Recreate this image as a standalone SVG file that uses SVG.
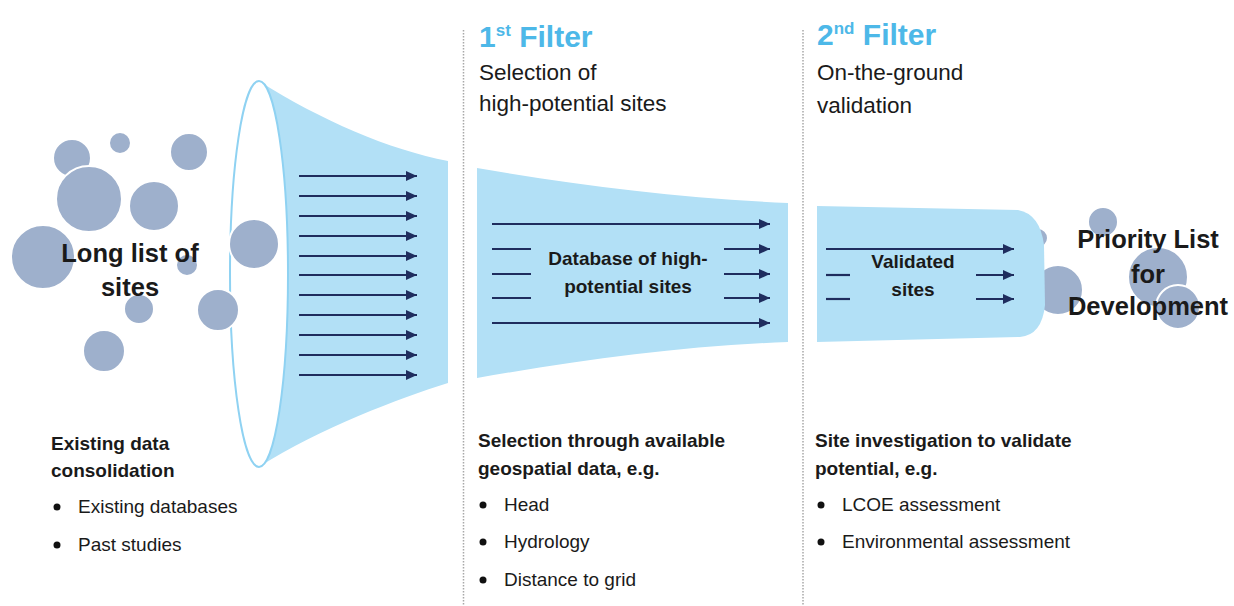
<svg xmlns="http://www.w3.org/2000/svg" width="1234" height="606" viewBox="0 0 1234 606">
<style>
text{font-family:"Liberation Sans",Arial,sans-serif;fill:#1a1a1a}
.title{font-size:30px;font-weight:bold;fill:#4db8e8}
.sub{font-size:22.5px}
.big{font-size:25.5px;font-weight:bold;text-anchor:middle}
.mid{font-size:19px;font-weight:bold;text-anchor:middle}
.head{font-size:19px;font-weight:bold}
.item{font-size:19px}
.site{fill:#9eb0cc;stroke:#fff;stroke-width:2}
.funnel{fill:#b2e0f6}
.arr{stroke:#1f2d5e;stroke-width:2.2;fill:none}
.arrn{stroke:#1f2d5e;stroke-width:2.2;fill:none;marker-end:url(#ah)}
.div{stroke:#a8a8a8;stroke-width:1.5;stroke-dasharray:1.5 1.5}
.dot{fill:#111}
</style>
<defs>
<marker id="ah" markerWidth="12" markerHeight="10" refX="11" refY="5" orient="auto" markerUnits="userSpaceOnUse"><path d="M0,0 L11,5 L0,10 z" fill="#1f2d5e"/></marker>
</defs>
<rect width="1234" height="606" fill="#fff"/>

<g id="dividers">
<line class="div" x1="463.5" y1="30" x2="463.5" y2="606"/>
<line class="div" x1="803" y1="30" x2="803" y2="606"/>
</g>

<g id="funnel1">
<path class="funnel" d="M259 81 C320 120 390 150 448 161 L448 383 C400 398 320 428 259 467 A29 193 0 0 0 259 81 Z"/>
<ellipse cx="259" cy="274" rx="29" ry="193" fill="none" stroke="#8fd2f2" stroke-width="2"/>
</g>

<g id="long-list">
<circle class="site" cx="72" cy="158" r="19"/>
<circle class="site" cx="120" cy="143" r="11"/>
<circle class="site" cx="189" cy="152" r="19"/>
<circle class="site" cx="89" cy="199" r="33"/>
<circle class="site" cx="154" cy="206" r="25"/>
<circle class="site" cx="43" cy="257" r="32"/>
<circle class="site" cx="254" cy="244" r="25"/>
<circle class="site" cx="187" cy="265" r="11"/>
<circle class="site" cx="139" cy="309" r="15"/>
<circle class="site" cx="218" cy="310" r="21"/>
<circle class="site" cx="104" cy="351" r="21"/>
<text class="big" x="130" y="262">Long list of</text>
<text class="big" x="130" y="296">sites</text>
</g>

<g id="funnel2">
<path class="funnel" d="M477 168 C580 186 680 198 788 203 L788 342 C680 346 580 360 477 378 Z"/>
<text class="mid" x="628" y="265">Database of high-</text>
<text class="mid" x="628" y="293">potential sites</text>
</g>

<g id="priority-circles">
<circle class="site" cx="1103" cy="222" r="15"/>
<circle class="site" cx="1038" cy="238" r="10"/>
<circle class="site" cx="1058" cy="290" r="25"/>
<circle class="site" cx="1158" cy="277" r="30"/>
<circle class="site" cx="1178" cy="307" r="22"/>
</g>

<g id="funnel3">
<path class="funnel" d="M817 206 L1018 210 Q1040 214 1044 245 L1045 305 Q1042 335 1020 337 L817 342 Z"/>
<text class="mid" x="913" y="268">Validated</text>
<text class="mid" x="913" y="296">sites</text>
</g>

<g id="priority">
<text class="big" x="1148" y="248">Priority List</text>
<text class="big" x="1148" y="283">for</text>
<text class="big" x="1148" y="315">Development</text>
</g>

<g id="connectors">
<line class="arrn" x1="299" y1="176" x2="417" y2="176"/>
<line class="arrn" x1="299" y1="196" x2="417" y2="196"/>
<line class="arrn" x1="299" y1="216" x2="417" y2="216"/>
<line class="arrn" x1="299" y1="236" x2="417" y2="236"/>
<line class="arrn" x1="299" y1="256" x2="417" y2="256"/>
<line class="arrn" x1="299" y1="275" x2="417" y2="275"/>
<line class="arrn" x1="299" y1="295" x2="417" y2="295"/>
<line class="arrn" x1="299" y1="315" x2="417" y2="315"/>
<line class="arrn" x1="299" y1="335" x2="417" y2="335"/>
<line class="arrn" x1="299" y1="355" x2="417" y2="355"/>
<line class="arrn" x1="299" y1="375" x2="417" y2="375"/>

<line class="arrn" x1="492" y1="224" x2="770" y2="224"/>
<line class="arr" x1="492" y1="249" x2="531" y2="249"/>
<line class="arr" x1="492" y1="274" x2="531" y2="274"/>
<line class="arr" x1="492" y1="298" x2="531" y2="298"/>
<line class="arrn" x1="724" y1="249" x2="770" y2="249"/>
<line class="arrn" x1="724" y1="274" x2="770" y2="274"/>
<line class="arrn" x1="724" y1="298" x2="770" y2="298"/>
<line class="arrn" x1="492" y1="323" x2="770" y2="323"/>

<line class="arrn" x1="826" y1="249" x2="1014" y2="249"/>
<line class="arr" x1="826" y1="275" x2="850" y2="275"/>
<line class="arr" x1="826" y1="299" x2="850" y2="299"/>
<line class="arrn" x1="976" y1="275" x2="1014" y2="275"/>
<line class="arrn" x1="976" y1="299" x2="1014" y2="299"/>
</g>

<g id="filter1-header">
<text class="title" x="479" y="47">1<tspan font-size="17" dy="-11">st</tspan><tspan dy="11"> Filter</tspan></text>
<text class="sub" x="479" y="80">Selection of</text>
<text class="sub" x="479" y="111">high-potential sites</text>
</g>

<g id="filter2-header">
<text class="title" x="817" y="45">2<tspan font-size="17" dy="-11">nd</tspan><tspan dy="11"> Filter</tspan></text>
<text class="sub" x="817" y="80">On-the-ground</text>
<text class="sub" x="817" y="113">validation</text>
</g>

<g id="col1-notes">
<text class="head" x="51" y="450">Existing data</text>
<text class="head" x="51" y="477">consolidation</text>
<circle class="dot" cx="57" cy="507" r="3.5"/>
<text class="item" x="78" y="513">Existing databases</text>
<circle class="dot" cx="57" cy="545" r="3.5"/>
<text class="item" x="78" y="551">Past studies</text>
</g>

<g id="col2-notes">
<text class="head" x="478" y="447">Selection through available</text>
<text class="head" x="478" y="475">geospatial data, e.g.</text>
<circle class="dot" cx="483" cy="505" r="3.5"/>
<text class="item" x="504" y="511">Head</text>
<circle class="dot" cx="483" cy="542" r="3.5"/>
<text class="item" x="504" y="548">Hydrology</text>
<circle class="dot" cx="483" cy="580" r="3.5"/>
<text class="item" x="504" y="586">Distance to grid</text>
</g>

<g id="col3-notes">
<text class="head" x="815" y="447">Site investigation to validate</text>
<text class="head" x="815" y="475">potential, e.g.</text>
<circle class="dot" cx="821" cy="505" r="3.5"/>
<text class="item" x="842" y="511">LCOE assessment</text>
<circle class="dot" cx="821" cy="542" r="3.5"/>
<text class="item" x="842" y="548">Environmental assessment</text>
</g>
</svg>
